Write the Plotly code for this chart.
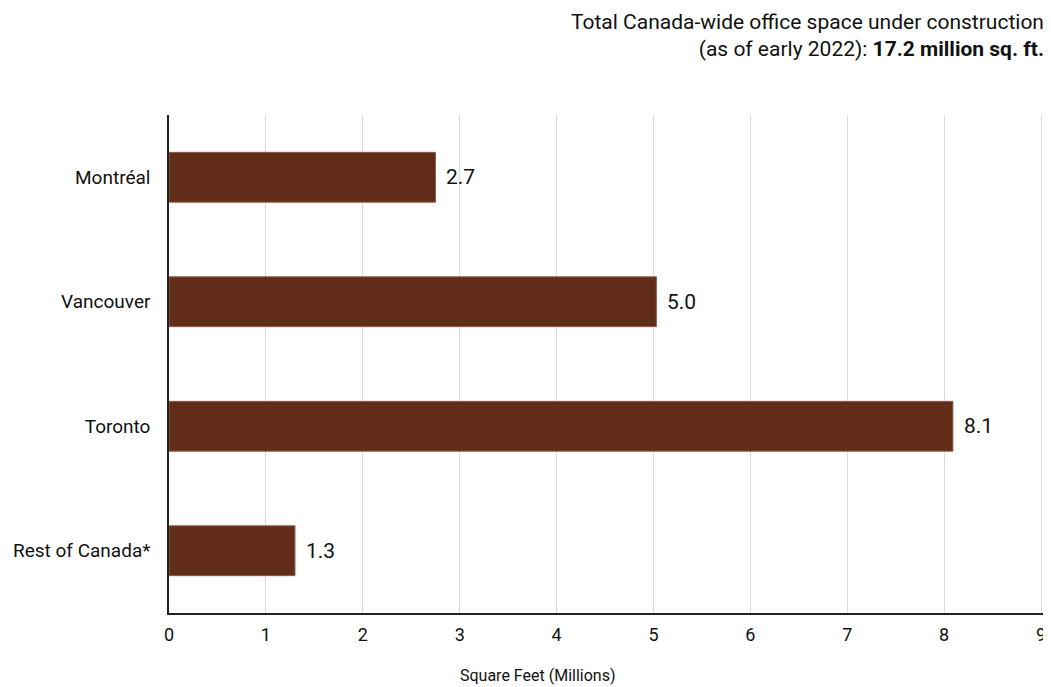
import plotly.graph_objects as go

categories = ["Montréal", "Vancouver", "Toronto", "Rest of Canada*"]
values = [2.75, 5.03, 8.09, 1.3]
labels = ["2.7", "5.0", "8.1", "1.3"]
x_ticks = [0, 1, 2, 3, 4, 5, 6, 7, 8, 9]

FONT = "Roboto, Arial, sans-serif"
TXT = "#111111"

fig = go.Figure()
fig.add_trace(go.Bar(
    y=categories,
    x=values,
    orientation="h",
    width=0.4,
    marker=dict(color="#622D18", line=dict(color="#8C5A45", width=1)),
    hoverinfo="skip",
))

annotations = []
for c, v, t in zip(categories, values, labels):
    annotations.append(dict(
        x=v, y=c, xref="x", yref="y",
        text=t, showarrow=False,
        xanchor="left", yanchor="middle",
        xshift=9,
        font=dict(family=FONT, size=21, color=TXT),
    ))

annotations.append(dict(
    text="Total Canada-wide office space under construction<br>(as of early 2022): <b>17.2 million sq. ft.</b>",
    xref="paper", yref="paper",
    x=1.0, y=1.0,
    xanchor="right", yanchor="bottom",
    xshift=3, yshift=52,
    align="right",
    showarrow=False,
    font=dict(family=FONT, size=21, color=TXT),
))
annotations.append(dict(
    text="Square Feet (Millions)",
    xref="paper", yref="paper",
    x=0.4226, y=0,
    xanchor="center", yanchor="middle",
    yshift=-62,
    showarrow=False,
    font=dict(family=FONT, size=16, color=TXT),
))

fig.update_layout(
    width=1043, height=679,
    autosize=False,
    margin=dict(l=158, r=5, t=107, b=74),
    plot_bgcolor="white",
    paper_bgcolor="white",
    showlegend=False,
    font=dict(family=FONT, color=TXT),
    xaxis=dict(
        range=[0, 9.02],
        tickvals=x_ticks,
        showgrid=True,
        gridcolor="#DADADA",
        gridwidth=1,
        zeroline=False,
        showline=True,
        linecolor="#222222",
        linewidth=1.5,
        ticks="",
        tickfont=dict(family=FONT, size=18),
        ticklabelstandoff=5,
    ),
    yaxis=dict(
        categoryorder="array",
        categoryarray=categories[::-1],
        showgrid=False,
        zeroline=False,
        showline=True,
        linecolor="#222222",
        linewidth=1.5,
        ticks="",
        tickfont=dict(family=FONT, size=19),
        ticklabelstandoff=13,
    ),
    annotations=annotations,
)

fig.write_html("out.html")
